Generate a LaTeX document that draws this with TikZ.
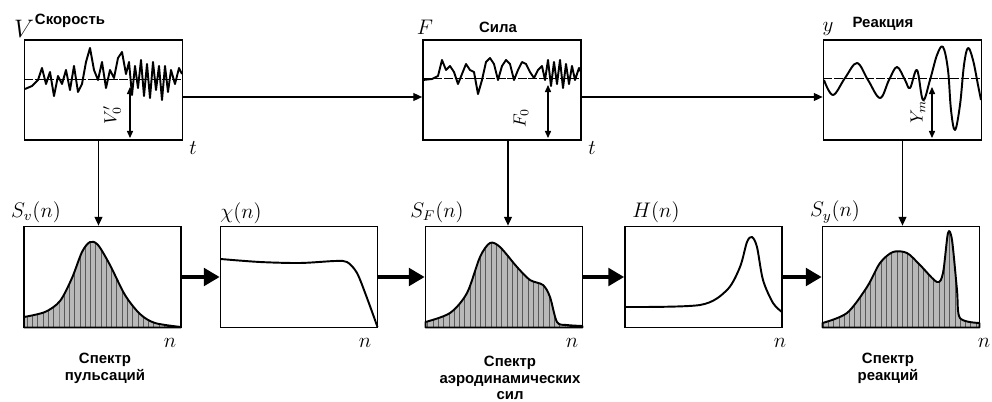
\documentclass[tikz,border=0pt]{standalone}
\usepackage{fontspec}
\setsansfont{Liberation Sans}
\usetikzlibrary{arrows.meta,patterns}

\begin{document}
\begin{tikzpicture}[x=0.02cm,y=-0.02cm,
  topbox/.style={draw,line width=1pt,minimum width=3.16cm,minimum height=2cm,inner sep=0pt},
  botbox/.style={draw,line width=1pt,minimum width=3.14cm,minimum height=2.02cm,inner sep=0pt},
  sig/.style={line width=0.7pt,-{Triangle[length=5pt,width=4.5pt]}},
  big/.style={line width=2pt,-{Triangle[length=9pt,width=10pt]}},
  amp/.style={line width=0.6pt,{Triangle[length=4pt,width=3.5pt]}-{Triangle[length=4pt,width=3.5pt]}},
  base/.style={line width=0.4pt,dash pattern=on 5pt off 1pt},
  wave/.style={line width=1.1pt,line join=round},
  spec/.style={line width=1.1pt,line join=round,pattern=vertical lines,pattern color=black!65,preaction={fill=gray!55}},
  ttl/.style={font=\sffamily\bfseries\fontsize{8.5}{9.5}\selectfont},
  capt/.style={font=\sffamily\bfseries\fontsize{8.5}{9.5}\selectfont,align=center},
  ax/.style={font=\large}]
  \useasboundingbox (0,0) rectangle (992,402);

  % spectra (filled)
  \draw[spec] (24,327.5) -- plot[smooth] coordinates {(24,317) (45,312) (60,301) (72,278) (82,252) (90,242) (98,245) (110,265) (125,295) (140,314) (155,323) (181,327)} -- (181,327.5) -- cycle;
  \draw[spec] (425.5,327.5) -- plot[smooth] coordinates {(425.5,322) (450,313) (467,293) (480,257) (490,243) (500,247) (517,267) (530,280) (543,285) (550,297) (557,322) (567,325) (582.5,326)} -- (582.5,327.5) -- cycle;
  \draw[spec] (822.5,327.5) -- plot[smooth] coordinates {(822.5,323) (847,313) (867,287) (880,263) (893,252) (907,253) (920,265) (937,282) (943,273) (948,233) (952,240) (957,290) (960,318) (979.5,323)} -- (979.5,327.5) -- cycle;

  % boxes
  \node[topbox] (b1) at (103.5,90) {};
  \node[topbox] (b2) at (502,90) {};
  \node[topbox] (b3) at (902.5,90) {};
  \node[botbox] (b4) at (102.5,277) {};
  \node[botbox] (b5) at (299,277) {};
  \node[botbox] (b6) at (504,277) {};
  \node[botbox] (b7) at (703.5,277) {};
  \node[botbox] (b8) at (901,277) {};

  % transfer functions
  \draw[wave] plot[smooth] coordinates {(220.5,259) (260,262) (300,263) (335,261) (347,262) (357,273) (367,298) (377.5,327)};
  \draw[wave] plot[smooth] coordinates {(625,307) (700,305) (727,290) (740,267) (747,242) (752,237) (757,247) (763,280) (773,303) (782,312)};

  % signals
  \draw[base] (24.5,79) -- (182.5,79);
  \draw[base] (423,78) -- (581,78);
  \draw[base] (823.5,78) -- (981.5,78);
  \draw[wave] plot coordinates {(25,89) (32,86) (38,80) (42,68) (46,84) (50,72) (54,96) (58,76) (62,84) (66,70) (70,90) (74,66) (78,92) (82,84) (86,62) (90,48) (94,70) (98,80) (102,62) (106,88) (110,70) (114,78) (118,58) (122,52) (126,74) (129,62) (132,95) (135,66) (138,88) (141,60) (144,96) (147,64) (150,98) (153,62) (156,90) (159,66) (162,100) (165,66) (168,92) (171,70) (175,84) (179,68) (182,74)};
  \draw[wave] plot coordinates {(423,80) (432,79) (438,76) (442,60) (446,70) (450,66) (454,72) (458,84) (462,74) (466,64) (470,70) (474,72) (478,94) (482,80) (486,62) (490,58) (494,64) (498,80) (502,66) (506,60) (510,64) (514,80) (518,70) (522,62) (526,64) (530,72) (534,78) (538,70) (542,66) (545,80) (548,60) (551,86) (554,62) (557,84) (560,60) (563,88) (566,64) (569,84) (572,66) (575,80) (579,68) (581,72)};
  \draw[wave] plot[smooth,tension=0.6] coordinates {(824,80) (833,95) (845,78) (857,63) (868,80) (880,98) (889,80) (897,67) (905,80) (910,88) (917,70) (923,100) (930,80) (937,55) (943,47) (948,70) (951,110) (955,130) (960,105) (964,65) (968,48) (973,60) (978,85) (981,100)};

  % amplitudes
  \coordinate (v0) at (130,87);  \coordinate (v1) at (130,138);
  \coordinate (f0) at (548,85);  \coordinate (f1) at (548,138);
  \coordinate (y0) at (932,87);  \coordinate (y1) at (932,138);
  \draw[amp] (v0) -- (v1);
  \draw[amp] (f0) -- (f1);
  \draw[amp] (y0) -- (y1);
  \node[rotate=90] (av) at (112,115) {$V'_0$};
  \node[rotate=90] (af) at (521,118) {$F_0$};
  \node[rotate=90] (ay) at (918,112) {$Y_m$};

  % connectors
  \draw[sig] ([yshift=-0.14cm]b1.east) -- ([yshift=-0.14cm]b2.west);
  \draw[sig] ([yshift=-0.14cm]b2.east) -- ([yshift=-0.14cm]b3.west);
  \draw[sig] ([xshift=-0.1cm]b1.south) -- ([xshift=-0.1cm]b1.south |- b4.north);
  \draw[sig] ([xshift=0.12cm]b2.south) -- ([xshift=0.12cm]b2.south |- b6.north);
  \draw[sig] (b3.south) -- (b3.south |- b8.north);
  \foreach \a/\b in {b4/b5,b5/b6,b6/b7,b7/b8}
    \draw[big] (\a.east) -- (\b.west);

  % labels
  \node[font=\Large] (lv) at (24,29) {$V$};
  \node[ttl] (tv) at (70,21) {Скорость};
  \node[ax] (lf) at (425,27) {$F$};
  \node[ttl] (tf) at (498,27) {Сила};
  \node[ax] (ly) at (828,29) {$y$};
  \node[ttl] (tr) at (883,24) {Реакция};
  \node[ax] (t1) at (193,148) {$t$};
  \node[ax] (t2) at (592,148) {$t$};
  \node[ax] (s4) at (36,212) {$S_v(n)$};
  \node[ax] (s5) at (241,213) {$\chi(n)$};
  \node[ax] (s6) at (437,212) {$S_F(n)$};
  \node[ax] (s7) at (656,212) {$H(n)$};
  \node[ax] (s8) at (835,212) {$S_y(n)$};
  \foreach \p/\x in {n4/170,n5/365,n6/572,n7/780,n8/984}
    \node[ax] (\p) at (\x,343) {$n$};
  \node[capt] (c4) at (105,368) {Спектр\\пульсаций};
  \node[capt] (c6) at (510,378) {Спектр\\аэродинамических\\сил};
  \node[capt] (c8) at (888,368) {Спектр\\реакций};
\end{tikzpicture}
\end{document}
